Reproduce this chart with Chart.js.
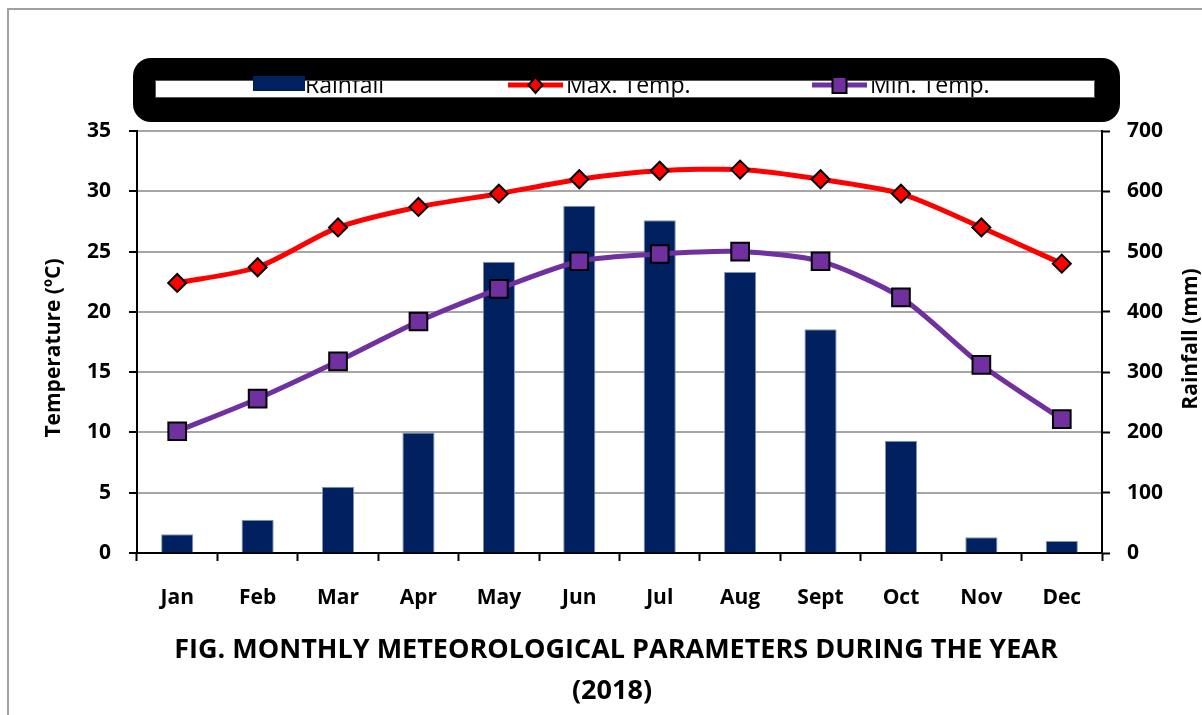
<!DOCTYPE html>
<html>
<head>
<meta charset="utf-8">
<title>Monthly Meteorological Parameters 2018</title>
<script src="https://cdn.jsdelivr.net/npm/chart.js"></script>
<style>
  body { margin: 0; background: #fff; }
  canvas { display: block; }
</style>
</head>
<body>
<canvas id="chart" width="1202" height="715"></canvas>
<script>
// values
const months = ['Jan', 'Feb', 'Mar', 'Apr', 'May', 'Jun', 'Jul', 'Aug', 'Sept', 'Oct', 'Nov', 'Dec'];
const rainfall = [31, 55, 110, 200, 483, 576, 552, 466, 371, 186, 26, 20];
const maxTemp = [22.4, 23.7, 27.0, 28.7, 29.8, 31.0, 31.7, 31.8, 31.0, 29.8, 27.0, 24.0];
const minTemp = [10.1, 12.8, 15.9, 19.2, 21.9, 24.2, 24.8, 25.0, 24.2, 21.2, 15.6, 11.1];
const tempTicks = [0, 35, 5];
const rainTicks = [0, 700, 100];
const titleLines = ['FIG. MONTHLY METEOROLOGICAL PARAMETERS DURING THE YEAR', '(2018)'];
const leftTitle = 'Temperature (ºC)';
const rightTitle = 'Rainfall (mm)';

const FONT = '"Open Sans", "Noto Sans", sans-serif';
const tickFont = { family: FONT, size: 21, weight: 'bold' };

// frame, legend box, axis titles and the caption
const decor = {
  id: 'decor',
  beforeDraw(chart) {
    const ctx = chart.ctx;
    ctx.save();
    ctx.fillStyle = '#fff';
    ctx.fillRect(0, 0, chart.width, chart.height);
    ctx.strokeStyle = '#a0a0a0';
    ctx.lineWidth = 2;
    ctx.beginPath();
    ctx.moveTo(8, chart.height);
    ctx.lineTo(8, 9);
    ctx.lineTo(chart.width, 9);
    ctx.stroke();
    ctx.restore();
  },
  afterDraw(chart) {
    const ctx = chart.ctx;
    ctx.save();

    // legend: black rounded box with a white strip
    ctx.fillStyle = '#000';
    ctx.beginPath();
    ctx.roundRect(133, 58, 987, 64, 18);
    ctx.fill();
    ctx.fillStyle = '#fff';
    ctx.fillRect(155, 80, 940, 18);
    ctx.strokeStyle = '#555';
    ctx.lineWidth = 1;
    ctx.strokeRect(155.5, 80.5, 939, 17);

    const ds = chart.data.datasets;
    const itemX = [253, 508, 812];
    const midY = 85;
    ds.forEach((d, i) => {
      const x0 = itemX[i];
      if (d.type === 'bar') {
        ctx.fillStyle = d.backgroundColor;
        ctx.fillRect(x0, 76, 52, 15);
      } else {
        ctx.strokeStyle = d.borderColor;
        ctx.lineWidth = 5;
        ctx.beginPath();
        ctx.moveTo(x0, midY);
        ctx.lineTo(x0 + 55, midY);
        ctx.stroke();
        ctx.fillStyle = d.pointBackgroundColor;
        ctx.strokeStyle = '#000';
        ctx.lineWidth = 2;
        const cx = x0 + 27.5;
        ctx.beginPath();
        if (d.pointStyle === 'rectRot') {
          ctx.moveTo(cx, midY - 8);
          ctx.lineTo(cx + 7, midY);
          ctx.lineTo(cx, midY + 8);
          ctx.lineTo(cx - 7, midY);
          ctx.closePath();
        } else {
          ctx.rect(cx - 7, midY - 8, 14, 16);
        }
        ctx.fill();
        ctx.stroke();
      }
      ctx.save();
      ctx.beginPath();
      ctx.rect(155, 81, 940, 16);
      ctx.clip();
      ctx.fillStyle = '#000';
      ctx.font = '23px ' + FONT;
      ctx.textBaseline = 'alphabetic';
      ctx.fillText(d.label, x0 + (d.type === 'bar' ? 52 : 58), 93);
      ctx.restore();
    });

    // axis titles, both reading bottom to top
    ctx.fillStyle = '#000';
    ctx.font = 'bold 21px ' + FONT;
    ctx.textAlign = 'center';
    ctx.textBaseline = 'middle';
    ctx.save();
    ctx.translate(54, 348);
    ctx.rotate(-Math.PI / 2);
    ctx.fillText(leftTitle, 0, 0);
    ctx.restore();
    ctx.save();
    ctx.translate(1191, 339);
    ctx.rotate(-Math.PI / 2);
    ctx.fillText(rightTitle, 0, 0);
    ctx.restore();

    // caption under the chart
    ctx.font = 'bold 27px ' + FONT;
    ctx.fillText(titleLines[0], 616, 650);
    ctx.fillText(titleLines[1], 612, 691);
    ctx.restore();
  }
};

new Chart(document.getElementById('chart'), {
  data: {
    labels: months,
    datasets: [
      {
        type: 'bar',
        label: 'Rainfall',
        data: rainfall,
        yAxisID: 'y1',
        backgroundColor: '#002060',
        borderColor: '#8497b0',
        borderWidth: 1,
        barPercentage: 0.4,
        categoryPercentage: 1,
        order: 3
      },
      {
        type: 'line',
        label: 'Max. Temp.',
        data: maxTemp,
        yAxisID: 'y',
        borderColor: '#ff0000',
        borderWidth: 5,
        tension: 0.25,
        pointStyle: 'rectRot',
        pointRadius: 9,
        pointBackgroundColor: '#ff0000',
        pointBorderColor: '#000',
        pointBorderWidth: 2,
        order: 2
      },
      {
        type: 'line',
        label: 'Min. Temp.',
        data: minTemp,
        yAxisID: 'y',
        borderColor: '#7030a0',
        borderWidth: 5,
        tension: 0.25,
        pointStyle: 'rect',
        pointRadius: 12.5,
        pointBackgroundColor: '#7030a0',
        pointBorderColor: '#000',
        pointBorderWidth: 2,
        order: 1
      }
    ]
  },
  options: {
    responsive: false,
    animation: false,
    layout: { padding: { top: 131, left: 0, right: 0, bottom: 0 } },
    plugins: {
      legend: { display: false },
      title: { display: false },
      tooltip: { enabled: false }
    },
    scales: {
      x: {
        offset: true,
        grid: { offset: true, drawOnChartArea: false, tickLength: 8, tickColor: '#000', tickWidth: 2 },
        border: { color: '#000', width: 2 },
        ticks: { color: '#000', font: tickFont, padding: 24 },
        afterFit: s => { s.height = 162; }
      },
      y: {
        position: 'left',
        min: tempTicks[0],
        max: tempTicks[1],
        ticks: { stepSize: tempTicks[2], color: '#000', font: tickFont, padding: 18 },
        grid: { color: '#a6a6a6', lineWidth: 2, tickLength: 8, tickColor: '#000', tickWidth: 2 },
        border: { color: '#000', width: 2 },
        afterFit: s => { s.width = 137; }
      },
      y1: {
        position: 'right',
        min: rainTicks[0],
        max: rainTicks[1],
        ticks: { stepSize: rainTicks[2], color: '#000', font: tickFont, padding: 17 },
        grid: { drawOnChartArea: false, tickLength: 8, tickColor: '#000', tickWidth: 2 },
        border: { color: '#000', width: 2 },
        afterFit: s => { s.width = 100; }
      }
    }
  },
  plugins: [decor]
});
</script>
</body>
</html>
